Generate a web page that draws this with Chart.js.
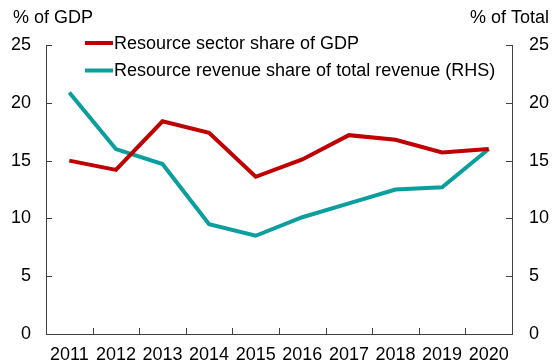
<!DOCTYPE html>
<html>
<head>
<meta charset="utf-8">
<script src="https://cdn.jsdelivr.net/npm/chart.js@4"></script>
<style>
  html, body { margin: 0; padding: 0; background: #fff; }
  #wrap { width: 553px; height: 363px; position: relative; }
</style>
</head>
<body>
<div id="wrap"><canvas id="c" width="553" height="363"></canvas></div>
<script>
// Years on the horizontal axis
const years = ['2011','2012','2013','2014','2015','2016','2017','2018','2019','2020'];
// Resource sector share of GDP, per cent (left axis)
const sectorShare = [15.0, 14.2, 18.4, 17.4, 13.6, 15.1, 17.2, 16.8, 15.7, 16.0];
// Resource revenue share of total revenue, per cent (right axis)
const revenueShare = [20.9, 16.0, 14.7, 9.5, 8.5, 10.1, 11.3, 12.5, 12.7, 16.0];
// Tick values shared by both vertical axes
const yTicks = [0, 5, 10, 15, 20, 25];

const RED = '#C00000';
const TEAL = '#0A9E9E';
const AXIS = '#404040';
const FAMILY = '"Liberation Sans", Arial, sans-serif';
const SIZE = 18;
const FONT = SIZE + 'px ' + FAMILY;

// Tick marks pointing into the plot, titles and the inset legend
const decorations = {
  id: 'decorations',
  afterDraw(chart) {
    const ctx = chart.ctx;
    const area = chart.chartArea;
    const x = chart.scales.x, y = chart.scales.y, y1 = chart.scales.y1;
    ctx.save();
    ctx.strokeStyle = AXIS;
    ctx.lineWidth = 1;
    const T = 6;
    ctx.beginPath();
    yTicks.forEach(v => {
      const py = Math.round(y.getPixelForValue(v)) + 0.5;
      ctx.moveTo(area.left, py); ctx.lineTo(area.left + T, py);
      const py1 = Math.round(y1.getPixelForValue(v)) + 0.5;
      ctx.moveTo(area.right, py1); ctx.lineTo(area.right - T, py1);
    });
    for (let i = 1; i < years.length; i++) {
      const px = Math.round((x.getPixelForValue(i - 1) + x.getPixelForValue(i)) / 2) + 0.5;
      ctx.moveTo(px, area.bottom); ctx.lineTo(px, area.bottom - T);
    }
    ctx.stroke();

    // Axis unit titles
    ctx.fillStyle = '#000';
    ctx.font = FONT;
    ctx.textBaseline = 'middle';
    ctx.textAlign = 'left';
    ctx.fillText('% of GDP', 13, 18);
    ctx.textAlign = 'right';
    ctx.fillText('% of Total', 549, 18);

    // Legend
    ctx.textAlign = 'left';
    chart.data.datasets.forEach((ds, i) => {
      const ly = 43 + i * 27.5;
      ctx.strokeStyle = ds.borderColor;
      ctx.lineWidth = 4;
      ctx.beginPath();
      ctx.moveTo(85, ly); ctx.lineTo(113, ly);
      ctx.stroke();
      ctx.fillStyle = '#000';
      ctx.fillText(ds.label, 114, ly + 1);
    });
    ctx.restore();
  }
};

new Chart(document.getElementById('c'), {
  type: 'line',
  data: {
    labels: years,
    datasets: [
      { label: 'Resource sector share of GDP', data: sectorShare, yAxisID: 'y',
        borderColor: RED, backgroundColor: RED, borderWidth: 4, pointRadius: 0, tension: 0 },
      { label: 'Resource revenue share of total revenue (RHS)', data: revenueShare, yAxisID: 'y1',
        borderColor: TEAL, backgroundColor: TEAL, borderWidth: 4, pointRadius: 0, tension: 0 }
    ]
  },
  options: {
    responsive: false,
    animation: false,
    layout: { padding: { top: 45, left: 0, right: 0, bottom: 0 } },
    plugins: { legend: { display: false }, tooltip: { enabled: false } },
    scales: {
      x: {
        offset: true,
        grid: { display: false, drawTicks: false },
        border: { display: true, color: AXIS, width: 1 },
        ticks: { color: '#000', font: { family: FAMILY, size: SIZE },
                 padding: 10, maxRotation: 0, autoSkip: false },
        afterFit(s) { s.height = 29; }
      },
      y: {
        position: 'left', min: 0, max: 25,
        grid: { display: false, drawTicks: false },
        border: { display: true, color: AXIS, width: 1 },
        ticks: { stepSize: 5, color: '#000', padding: 15,
                 font: { family: FAMILY, size: SIZE } },
        afterFit(s) { s.width = 46; }
      },
      y1: {
        position: 'right', min: 0, max: 25,
        grid: { display: false, drawTicks: false },
        border: { display: true, color: AXIS, width: 1 },
        ticks: { stepSize: 5, color: '#000', padding: 17,
                 font: { family: FAMILY, size: SIZE } },
        afterFit(s) { s.width = 41; }
      }
    }
  },
  plugins: [decorations]
});
</script>
</body>
</html>
